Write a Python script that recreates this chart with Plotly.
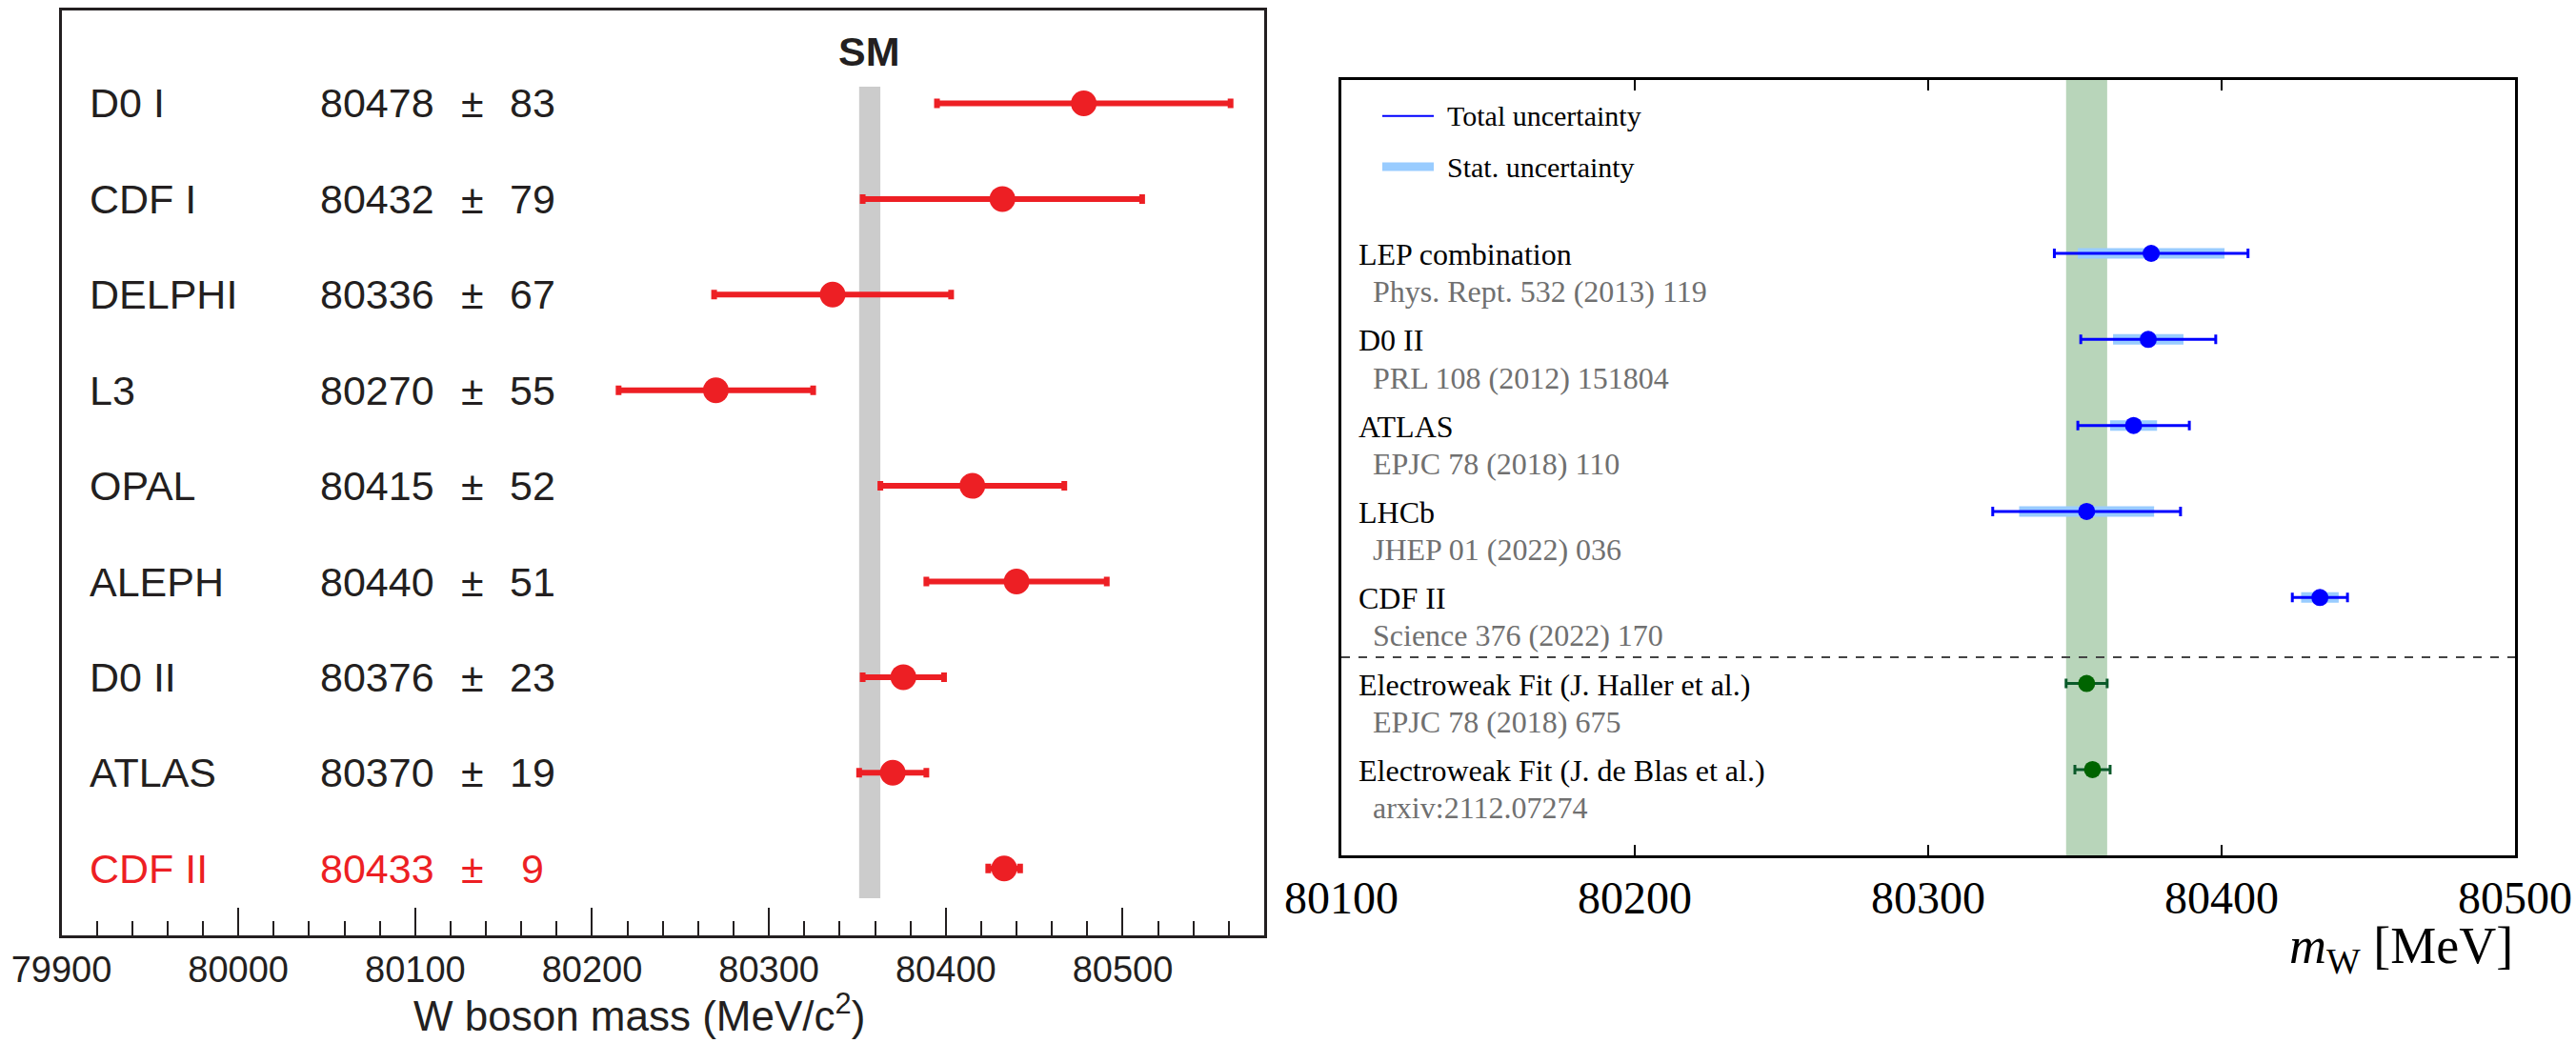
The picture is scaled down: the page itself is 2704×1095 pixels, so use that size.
import plotly.graph_objects as go

W, H = 2704, 1095

# ---------------- Left panel data ----------------
left_names = ["D0 I", "CDF I", "DELPHI", "L3", "OPAL", "ALEPH", "D0 II", "ATLAS", "CDF II"]
left_values = [80478, 80432, 80336, 80270, 80415, 80440, 80376, 80370, 80433]
left_errors = [83, 79, 67, 55, 52, 51, 23, 19, 9]
sm_value = 80357
sm_error = 6
left_ticks = [79900, 80000, 80100, 80200, 80300, 80400, 80500]

# ---------------- Right panel data ----------------
right_names = ["LEP combination", "D0 II", "ATLAS", "LHCb", "CDF II",
               "Electroweak Fit (J. Haller et al.)", "Electroweak Fit (J. de Blas et al.)"]
right_refs = ["Phys. Rept. 532 (2013) 119", "PRL 108 (2012) 151804", "EPJC 78 (2018) 110",
              "JHEP 01 (2022) 036", "Science 376 (2022) 170", "EPJC 78 (2018) 675",
              "arxiv:2112.07274"]
meas_values = [80376, 80375, 80370, 80354, 80433.5]
meas_total = [33, 23, 19, 32, 9.4]
meas_stat = [25, 12, 8, 23, 6.4]
fit_values = [80354, 80356]
fit_errors = [7, 6]
fit_band = [80347, 80361]
right_ticks = [80100, 80200, 80300, 80400, 80500]

RED = "#ed1f24"
INK = "#231f20"
BLUE = "#0000ff"
LBLUE = "#99ccff"
GREEN = "#006400"

def px(x):
    return x / W

def py(y):
    return 1 - y / H

fig = go.Figure()

left_rows = list(range(len(left_names)))
fig.add_trace(go.Scatter(
    x=left_values, y=left_rows, mode="markers",
    marker=dict(size=27, color=RED),
    error_x=dict(type="data", array=left_errors, color=RED, thickness=6, width=5),
    xaxis="x", yaxis="y", showlegend=False, hoverinfo="skip"))

right_rows = list(range(len(right_names)))
meas_rows = right_rows[:len(meas_values)]
fit_rows = right_rows[len(meas_values):]

# stat bands
fig.add_trace(go.Scatter(
    x=meas_values, y=meas_rows, mode="markers",
    marker=dict(size=1, color="rgba(0,0,0,0)"),
    error_x=dict(type="data", array=meas_stat, color=LBLUE, thickness=11, width=0),
    xaxis="x2", yaxis="y2", showlegend=False, hoverinfo="skip"))
# total
fig.add_trace(go.Scatter(
    x=meas_values, y=meas_rows, mode="markers",
    marker=dict(size=18, color=BLUE),
    error_x=dict(type="data", array=meas_total, color=BLUE, thickness=3, width=5),
    xaxis="x2", yaxis="y2", showlegend=False, hoverinfo="skip"))
# fits
fig.add_trace(go.Scatter(
    x=fit_values, y=fit_rows, mode="markers",
    marker=dict(size=18, color=GREEN),
    error_x=dict(type="data", array=fit_errors, color="#0a5a2a", thickness=3, width=5),
    xaxis="x2", yaxis="y2", showlegend=False, hoverinfo="skip"))

shapes = []
# SM band
shapes.append(dict(type="rect", xref="x", yref="y", x0=sm_value - sm_error, x1=sm_value + sm_error,
                   y0=-0.174, y1=8.312, fillcolor="#cccccc", line=dict(width=0), layer="below"))
# green EW band
shapes.append(dict(type="rect", xref="x2", yref="y2 domain", x0=fit_band[0], x1=fit_band[1],
                   y0=0, y1=1, fillcolor="#b8d5ba", line=dict(width=0), layer="below"))
# dashed separator
shapes.append(dict(type="line", xref="x2 domain", yref="y2", x0=0, x1=1, y0=4.694, y1=4.694,
                   line=dict(color="#444444", width=2, dash="dash")))
# legend swatches
shapes.append(dict(type="line", xref="paper", yref="paper", x0=px(1451), x1=px(1505),
                   y0=py(121.7), y1=py(121.7), line=dict(color=BLUE, width=2)))
shapes.append(dict(type="line", xref="paper", yref="paper", x0=px(1451), x1=px(1505),
                   y0=py(175), y1=py(175), line=dict(color=LBLUE, width=9)))

ann = []
SANS = "Liberation Sans, Arial, sans-serif"
SERIF = "Liberation Serif, Times New Roman, serif"
for i, (n, v, e) in enumerate(zip(left_names, left_values, left_errors)):
    col = RED if n == "CDF II" else INK
    f = dict(family=SANS, size=43, color=col)
    ann.append(dict(text=n, xref="paper", yref="y", x=px(92), y=i, xanchor="left",
                    yanchor="middle", showarrow=False, font=f))
    ann.append(dict(text=str(v), xref="paper", yref="y", x=px(334), y=i, xanchor="left",
                    yanchor="middle", showarrow=False, font=f))
    ann.append(dict(text="±", xref="paper", yref="y", x=px(496), y=i, xanchor="center",
                    yanchor="middle", showarrow=False, font=f))
    ann.append(dict(text=str(e), xref="paper", yref="y", x=px(559), y=i, xanchor="center",
                    yanchor="middle", showarrow=False, font=f))
ann.append(dict(text="<b>SM</b>", xref="x", yref="y", x=sm_value, y=-0.543, xanchor="center",
                yanchor="middle", showarrow=False, font=dict(family=SANS, size=43, color=INK)))
ann.append(dict(text="W boson mass (MeV/c<sup>2</sup>)", xref="paper", yref="paper",
                x=px(671), y=py(1093), xanchor="center", yanchor="bottom", showarrow=False,
                font=dict(family=SANS, size=44, color=INK)))

for i, (n, r) in enumerate(zip(right_names, right_refs)):
    ann.append(dict(text=n, xref="paper", yref="y2", x=px(1424), y=i + 0.01, xanchor="left",
                    yanchor="middle", showarrow=False, font=dict(family=SERIF, size=32, color="black")))
    ann.append(dict(text=r, xref="paper", yref="y2", x=px(1439), y=i + 0.445, xanchor="left",
                    yanchor="middle", showarrow=False, font=dict(family=SERIF, size=32, color="#707070")))
ann.append(dict(text="Total uncertainty", xref="paper", yref="paper", x=px(1517), y=py(121.7),
                xanchor="left", yanchor="middle", showarrow=False,
                font=dict(family=SERIF, size=30, color="black")))
ann.append(dict(text="Stat. uncertainty", xref="paper", yref="paper", x=px(1517), y=py(175),
                xanchor="left", yanchor="middle", showarrow=False,
                font=dict(family=SERIF, size=30, color="black")))
ann.append(dict(text="<i>m</i><sub>W</sub> [MeV]", xref="x2 domain", yref="paper", x=1, y=py(996),
                xanchor="right", yanchor="middle", showarrow=False,
                font=dict(family=SERIF, size=54, color="black")))

fig.update_layout(
    width=W, height=H, margin=dict(l=0, r=0, t=0, b=0, autoexpand=False),
    paper_bgcolor="white", plot_bgcolor="white",
    shapes=shapes, annotations=ann,
    xaxis=dict(domain=[px(64.5), px(1327)], range=[79900, 80580], automargin=False,
               tickvals=left_ticks, ticktext=[str(t) for t in left_ticks],
               ticks="inside", ticklen=29, tickwidth=2, tickcolor=INK,
               minor=dict(ticks="inside", ticklen=15, tickwidth=2, dtick=20, tick0=79900, tickcolor=INK),
               showline=True, linewidth=3, linecolor=INK, mirror=True,
               showgrid=False, zeroline=False,
               tickfont=dict(family=SANS, size=38, color=INK), anchor="y"),
    yaxis=dict(domain=[py(982), py(11)], range=[8.700, -0.971], automargin=False,
               showticklabels=False, ticks="", showgrid=False, zeroline=False,
               showline=True, linewidth=3, linecolor=INK, mirror=True, anchor="x"),
    xaxis2=dict(domain=[px(1408), px(2640)], range=[80100, 80500], automargin=False,
                tickvals=right_ticks, ticktext=[str(t) for t in right_ticks],
                ticks="inside", ticklen=11, tickwidth=2, tickcolor="black",
                showline=True, linewidth=3, linecolor="black", mirror="ticks",
                showgrid=False, zeroline=False, ticklabelstandoff=0,
                tickfont=dict(family=SERIF, size=48, color="black"), anchor="y2"),
    yaxis2=dict(domain=[py(898), py(84)], range=[6.997, -2.015], automargin=False,
                showticklabels=False, ticks="", showgrid=False, zeroline=False,
                showline=True, linewidth=3, linecolor="black", mirror=True, anchor="x2"),
)

fig.write_html("out.html")
